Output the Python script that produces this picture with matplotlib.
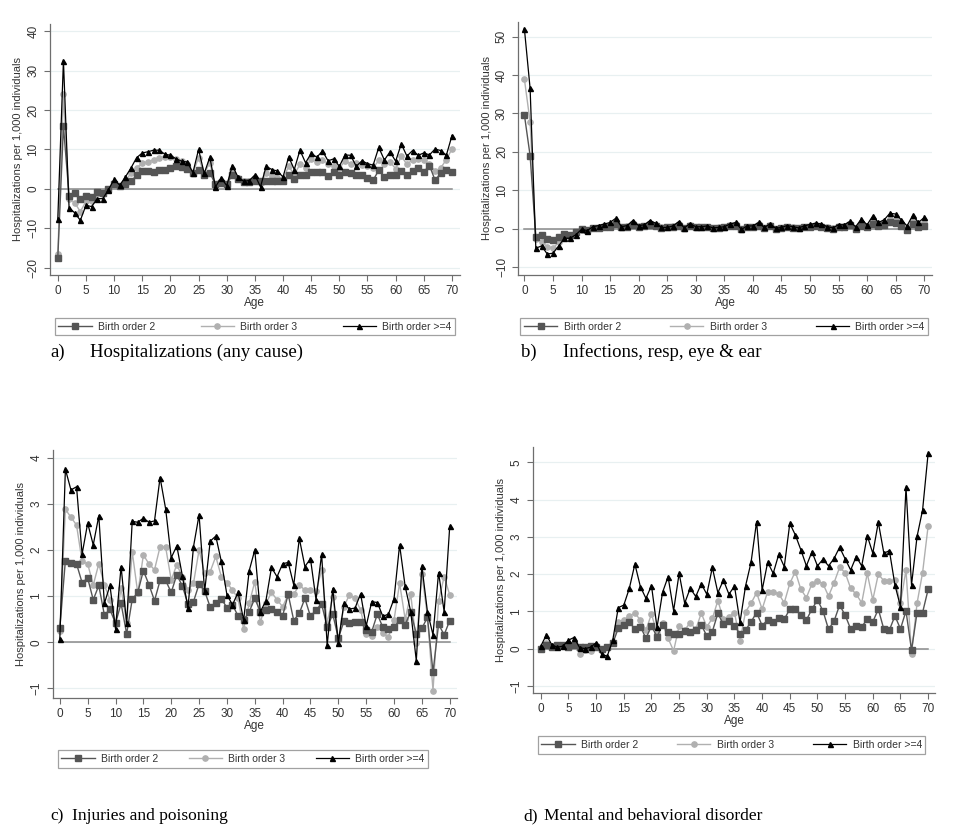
import matplotlib
matplotlib.use("Agg")
import matplotlib.pyplot as plt

# ages 0..70
ages = list(range(71))

a_bo2 = [-17.5, 15.9, -1.7, -1.0, -2.5, -1.9, -2.0, -0.8, -1.0, 0.0,
         1.1, 0.8, 1.1, 1.9, 3.4, 4.5, 4.5, 4.3, 4.7, 4.9,
         5.3, 5.7, 5.5, 5.1, 3.9, 4.9, 3.6, 4.1, 1.1, 1.5,
         1.1, 3.6, 2.4, 1.7, 1.8, 2.1, 1.9, 1.9, 1.9, 1.9,
         2.1, 3.6, 2.4, 3.6, 3.5, 4.2, 4.2, 4.3, 3.2, 4.3,
         3.6, 4.3, 3.9, 3.6, 3.6, 2.8, 2.2, 4.7, 3.0, 3.4,
         3.6, 4.5, 3.4, 4.5, 5.3, 4.3, 5.9, 2.2, 3.9, 4.9, 4.3]
a_bo3 = [-16.6, 24.1, -2.5, -3.5, -5.8, -3.2, -3.1, -1.4, -1.3, -0.3,
         1.4, 0.8, 2.1, 3.9, 5.3, 6.6, 6.8, 7.4, 7.9, 8.1,
         8.0, 7.6, 7.0, 6.4, 4.1, 7.9, 3.9, 6.6, 0.7, 1.9,
         1.1, 4.9, 2.8, 1.9, 1.9, 2.8, 1.4, 4.1, 3.2, 2.8,
         2.5, 5.7, 3.6, 6.2, 5.3, 7.6, 6.8, 7.4, 6.4, 5.9,
         5.3, 7.0, 6.4, 6.6, 6.0, 5.7, 5.3, 7.2, 6.2, 6.8,
         5.1, 8.3, 6.2, 7.4, 7.6, 7.3, 6.2, 4.5, 5.3, 7.4, 10.1]
a_bo4 = [-7.6, 32.5, -4.8, -6.1, -8.0, -4.2, -4.5, -2.5, -2.5, -0.2,
         2.4, 0.9, 3.0, 5.3, 7.9, 9.1, 9.4, 9.8, 9.8, 8.8,
         8.5, 7.6, 7.0, 6.8, 4.1, 10.0, 3.9, 8.0, 0.5, 2.8,
         0.8, 5.9, 3.0, 1.9, 2.1, 3.5, 0.5, 5.7, 4.9, 4.5,
         3.0, 8.1, 4.9, 9.8, 6.6, 9.0, 8.0, 9.6, 7.1, 7.6,
         5.7, 8.6, 8.5, 5.7, 7.1, 6.4, 6.0, 10.5, 7.3, 9.4,
         7.0, 11.4, 8.3, 9.7, 8.5, 9.1, 8.6, 10.1, 9.7, 8.5, 13.5]

b_bo2 = [29.6, 19.0, -2.1, -1.7, -2.8, -2.9, -2.1, -1.5, -1.6, -0.8,
         -0.2, -0.3, 0.2, 0.2, 0.5, 0.5, 1.1, 0.4, 0.5, 0.9,
         0.5, 0.6, 0.9, 0.6, 0.2, 0.3, 0.4, 0.8, 0.1, 0.6,
         0.3, 0.3, 0.4, 0.1, 0.2, 0.3, 0.6, 0.8, -0.1, 0.4,
         0.3, 0.7, 0.1, 0.6, -0.1, 0.1, 0.3, 0.2, 0.1, 0.3,
         0.5, 0.7, 0.5, 0.2, 0.0, 0.4, 0.4, 0.9, 0.0, 0.8,
         0.3, 1.3, 0.6, 1.0, 1.6, 1.5, 0.8, -0.4, 1.2, 0.5, 0.8]
b_bo3 = [38.9, 27.8, -2.8, -3.4, -4.7, -5.1, -3.6, -2.1, -2.3, -1.2,
         -0.3, -0.5, 0.2, 0.5, 0.7, 1.0, 1.8, 0.5, 0.7, 1.4,
         0.6, 0.8, 1.4, 1.0, 0.3, 0.3, 0.6, 1.2, 0.2, 0.9,
         0.4, 0.4, 0.5, 0.2, 0.3, 0.4, 0.9, 1.1, -0.1, 0.5,
         0.5, 1.1, 0.2, 0.9, 0.0, 0.2, 0.5, 0.3, 0.1, 0.5,
         0.8, 1.0, 0.8, 0.3, 0.1, 0.7, 0.7, 1.3, 0.2, 1.5,
         0.6, 2.2, 1.0, 1.6, 2.6, 2.5, 1.5, 0.1, 2.2, 1.0, 1.7]
b_bo4 = [52.0, 36.5, -5.1, -4.5, -6.6, -6.4, -4.5, -2.5, -2.5, -1.6,
         -0.2, -0.5, 0.5, 0.8, 1.2, 1.6, 2.7, 0.5, 0.8, 2.1,
         0.8, 1.0, 2.1, 1.4, 0.3, 0.3, 0.7, 1.8, 0.2, 1.3,
         0.5, 0.5, 0.7, 0.2, 0.3, 0.5, 1.2, 1.6, -0.2, 0.7,
         0.7, 1.6, 0.3, 1.2, 0.1, 0.3, 0.8, 0.5, 0.2, 0.7,
         1.1, 1.4, 1.2, 0.5, 0.2, 1.0, 1.0, 1.9, 0.5, 2.5,
         1.0, 3.3, 1.6, 2.3, 4.0, 3.8, 2.3, 0.7, 3.5, 1.6, 2.9]

c_bo2 = [0.30, 1.77, 1.71, 1.70, 1.29, 1.39, 0.92, 1.23, 0.59, 0.71,
         0.41, 0.84, 0.18, 0.93, 1.08, 1.55, 1.25, 0.90, 1.34, 1.34,
         1.08, 1.46, 1.22, 0.83, 0.88, 1.26, 1.11, 0.76, 0.86, 0.94,
         0.75, 0.81, 0.57, 0.48, 0.66, 0.95, 0.66, 0.70, 0.71, 0.66,
         0.57, 1.04, 0.47, 0.63, 0.95, 0.56, 0.70, 0.83, 0.32, 0.61,
         0.09, 0.45, 0.41, 0.43, 0.43, 0.27, 0.23, 0.61, 0.32, 0.28,
         0.32, 0.48, 0.38, 0.66, 0.18, 0.30, 0.54, -0.65, 0.39, 0.16, 0.47]
c_bo3 = [0.25, 2.88, 2.71, 2.54, 1.75, 1.70, 1.24, 1.70, 1.24, 0.92,
         0.41, 1.17, 0.41, 1.96, 1.06, 1.89, 1.70, 1.57, 2.07, 2.06,
         1.35, 1.68, 1.42, 1.13, 1.28, 2.00, 1.49, 1.53, 1.86, 1.42,
         1.29, 1.13, 0.95, 0.28, 0.84, 1.31, 0.43, 0.84, 1.08, 0.92,
         0.77, 1.03, 1.04, 1.24, 1.13, 1.13, 1.10, 1.57, 0.41, 0.99,
         0.05, 0.77, 1.03, 0.95, 0.70, 0.18, 0.14, 0.34, 0.21, 0.11,
         0.48, 1.28, 0.50, 1.04, -0.02, 1.48, 0.56, -1.05, 0.90, 1.42, 1.03]
c_bo4 = [0.07, 3.75, 3.30, 3.37, 1.91, 2.58, 2.11, 2.74, 0.84, 1.23,
         0.29, 1.64, 0.41, 2.62, 2.60, 2.69, 2.60, 2.63, 3.57, 2.89,
         1.83, 2.09, 1.44, 0.74, 2.07, 2.76, 1.10, 2.19, 2.30, 1.75,
         1.03, 0.81, 1.08, 0.48, 1.55, 2.00, 0.66, 0.90, 1.62, 1.42,
         1.70, 1.73, 1.24, 2.25, 1.64, 1.81, 0.92, 1.91, -0.06, 1.16,
         -0.01, 0.84, 0.72, 0.74, 1.05, 0.35, 0.88, 0.86, 0.56, 0.61,
         0.94, 2.11, 1.21, 0.66, -0.40, 1.65, 0.66, 0.16, 1.51, 0.66, 2.51]

d_bo2 = [-0.02, 0.10, 0.05, 0.10, 0.10, 0.04, 0.10, 0.04, 0.04, 0.07,
         0.04, -0.02, 0.04, 0.14, 0.55, 0.64, 0.72, 0.52, 0.59, 0.28,
         0.61, 0.32, 0.64, 0.46, 0.39, 0.39, 0.48, 0.46, 0.50, 0.64,
         0.34, 0.46, 0.95, 0.65, 0.74, 0.61, 0.39, 0.50, 0.72, 0.97,
         0.62, 0.77, 0.72, 0.83, 0.79, 1.06, 1.06, 0.90, 0.77, 1.06,
         1.31, 1.01, 0.52, 0.74, 1.17, 0.90, 0.53, 0.61, 0.59, 0.79,
         0.72, 1.06, 0.52, 0.50, 0.88, 0.53, 1.01, -0.04, 0.97, 0.97, 1.59]
d_bo3 = [-0.02, 0.14, 0.07, 0.04, 0.07, 0.10, 0.07, -0.13, -0.04, -0.05,
         0.04, -0.04, 0.04, 0.19, 0.72, 0.77, 0.88, 0.95, 0.77, 0.50,
         0.93, 0.41, 0.68, 0.28, -0.06, 0.61, 0.50, 0.70, 0.52, 0.95,
         0.59, 0.81, 1.29, 0.79, 0.86, 0.97, 0.21, 0.99, 1.22, 1.50,
         1.06, 1.53, 1.53, 1.47, 1.23, 1.75, 2.07, 1.59, 1.37, 1.74,
         1.82, 1.74, 1.41, 1.77, 2.18, 2.04, 1.62, 1.46, 1.23, 2.02,
         1.31, 2.00, 1.82, 1.82, 1.84, 1.22, 2.11, -0.13, 1.22, 2.04, 3.29]
d_bo4 = [0.07, 0.37, 0.10, 0.04, 0.07, 0.23, 0.30, 0.03, 0.00, 0.04,
         0.16, -0.15, -0.20, 0.23, 1.10, 1.17, 1.62, 2.27, 1.66, 1.35,
         1.69, 0.57, 1.51, 1.93, 1.02, 2.02, 1.22, 1.62, 1.40, 1.74,
         1.46, 2.18, 1.50, 1.84, 1.46, 1.68, 0.71, 1.68, 2.32, 3.41,
         1.57, 2.32, 2.02, 2.53, 2.20, 3.36, 3.05, 2.65, 2.22, 2.60,
         2.22, 2.40, 2.22, 2.42, 2.72, 2.41, 2.11, 2.47, 2.22, 3.03,
         2.56, 3.39, 2.56, 2.63, 1.71, 1.13, 4.33, 1.71, 3.01, 3.72, 5.24]

series_labels = ["Birth order 2", "Birth order 3", "Birth order >=4"]
cap_letters = ["a)", "b)", "c)", "d)"]
cap_texts = ["Hospitalizations (any cause)", "Infections, resp, eye & ear",
             "Injuries and poisoning", "Mental and behavioral disorder"]
y_ticks = [[-20, -10, 0, 10, 20, 30, 40], [-10, 0, 10, 20, 30, 40, 50],
           [-1, 0, 1, 2, 3, 4], [-1, 0, 1, 2, 3, 4, 5]]
x_ticks = list(range(0, 71, 5))

# ─── style ──────────────────────────────
C2 = "#555555"
C3 = "#b0b0b0"
C4 = "#000000"
AXIS = "#6e6e6e"
GRID = "#e8f0f1"
SERIF = ["Liberation Serif", "DejaVu Serif"]
plt.rcParams["font.family"] = ["Liberation Sans", "DejaVu Sans"]

panels = [
    # data, axes rect, ylim, xlim, legend rect, caption (x letter, x text, y, size)
    ((a_bo2, a_bo3, a_bo4), [0.052, 0.669, 0.427, 0.302], (-21.8, 41.8), (-1.4, 71.4),
     (0.057, 0.596, 0.417, 0.027), (0.052, 0.094, 0.565, 13.5)),
    ((b_bo2, b_bo3, b_bo4), [0.540, 0.669, 0.431, 0.305], (-12.0, 53.9), (-1.05, 71.4),
     (0.542, 0.596, 0.425, 0.027), (0.543, 0.586, 0.565, 13.5)),
    ((c_bo2, c_bo3, c_bo4), [0.055, 0.159, 0.421, 0.299], (-1.21, 4.17), (-1.26, 71.3),
     (0.060, 0.075, 0.386, 0.026), (0.052, 0.075, 0.007, 12.5)),
    ((d_bo2, d_bo3, d_bo4), [0.555, 0.165, 0.419, 0.296], (-1.19, 5.40), (-1.45, 71.25),
     (0.560, 0.092, 0.404, 0.027), (0.545, 0.567, 0.007, 12.5)),
]

fig = plt.figure(figsize=(9.6, 8.3), dpi=100)
fig.patch.set_facecolor("white")

for i, (data, rect, ylim, xlim, leg_rect, cap) in enumerate(panels):
    ax = fig.add_axes(rect)
    s2, s3, s4 = data

    for v in y_ticks[i]:
        ax.axhline(v, color=GRID, lw=0.9, zorder=0)
    ax.plot([0, 70], [0, 0], color="#8a8a8a", lw=1.1, zorder=1)

    h2, = ax.plot(ages, s2, color=C2, lw=1.0, marker="s", ms=4.2, zorder=3)
    h3, = ax.plot(ages, s3, color=C3, lw=1.0, marker="o", ms=3.8, zorder=2)
    h4, = ax.plot(ages, s4, color=C4, lw=0.9, marker="^", ms=3.6, zorder=4)

    ax.set_xlim(*xlim)
    ax.set_ylim(*ylim)
    ax.set_xticks(x_ticks)
    ax.set_yticks(y_ticks[i])
    ax.tick_params(axis="both", colors=AXIS, labelcolor="#333333", labelsize=8.5,
                   length=4, width=0.8, direction="out")
    for lab in ax.get_yticklabels():
        lab.set_rotation(90)
        lab.set_va("center")
    for side in ("top", "right"):
        ax.spines[side].set_visible(False)
    for side in ("left", "bottom"):
        ax.spines[side].set_color(AXIS)
        ax.spines[side].set_linewidth(0.9)

    ax.set_xlabel("Age", fontsize=8.5, color="#333333", labelpad=0)
    ax.set_ylabel("Hospitalizations per 1,000 individuals", fontsize=8,
                  color="#333333", labelpad=3)

    leg = ax.legend([h2, h3, h4], series_labels, loc="lower left",
                    bbox_to_anchor=leg_rect, bbox_transform=fig.transFigure,
                    mode="expand", ncol=3, borderaxespad=0, fontsize=7.5,
                    handlelength=3.2, frameon=True, fancybox=False,
                    borderpad=0.35, handletextpad=0.6)
    leg.get_frame().set_edgecolor("#8a8a8a")
    leg.get_frame().set_linewidth(0.9)
    for t in leg.get_texts():
        t.set_color("#333333")

    # подпись панели
    fig.text(cap[0], cap[2], cap_letters[i], fontsize=cap[3], family=SERIF,
             ha="left", va="bottom")
    fig.text(cap[1], cap[2], cap_texts[i], fontsize=cap[3], family=SERIF,
             ha="left", va="bottom")

fig.savefig("out.png", dpi=100, facecolor="white")
